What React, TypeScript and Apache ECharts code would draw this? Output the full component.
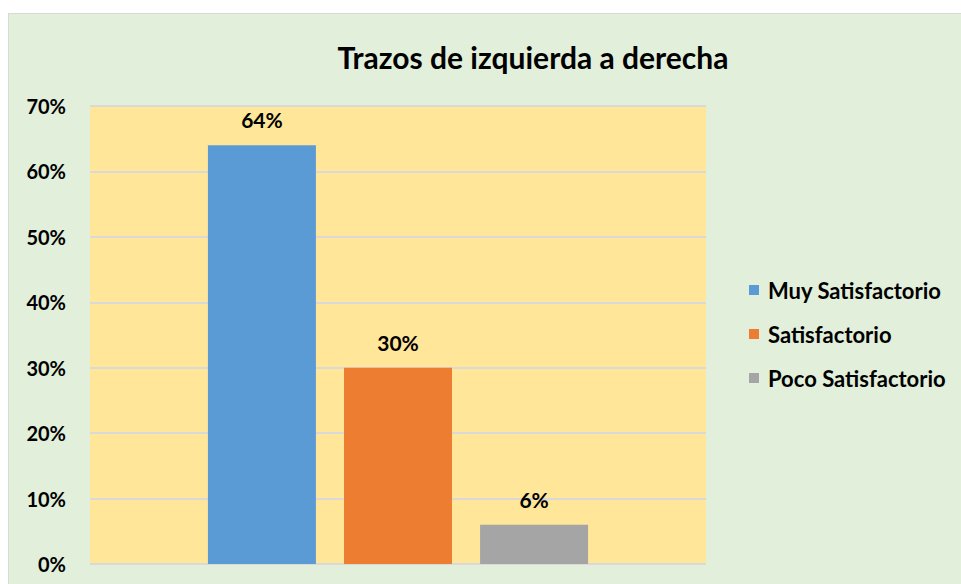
import React, { useEffect, useRef } from "react";
import * as echarts from "echarts";

const titleText = "Trazos de izquierda a derecha";
const categories = ["Trazos de izquierda a derecha"];
const seriesNames = ["Muy Satisfactorio", "Satisfactorio", "Poco Satisfactorio"];
const seriesValues = [0.64, 0.3, 0.06];
const seriesColors = ["#5B9BD5", "#ED7D31", "#A5A5A5"];

const FONT = "Lato, 'Open Sans', sans-serif";

export default function App() {
  const ref = useRef<HTMLDivElement>(null);
  useEffect(() => {
    if (!ref.current) return;
    const chart = echarts.init(ref.current, undefined, { renderer: "svg" });
    chart.setOption({
      animation: false,
      backgroundColor: "#E2EFDA",
      textStyle: { fontFamily: FONT },
      graphic: [
        {
          type: "text",
          x: 524,
          y: 43,
          style: {
            text: titleText,
            fontFamily: FONT,
            fontWeight: "bold",
            fontSize: 30,
            fill: "#000",
            textAlign: "center",
            textVerticalAlign: "middle",
          },
        },
      ],
      grid: {
        left: 81,
        top: 92,
        width: 616,
        height: 458,
        show: true,
        backgroundColor: "#FFE699",
        borderWidth: 0,
      },
      legend: {
        orient: "vertical",
        left: 735,
        top: 260,
        itemWidth: 10,
        itemHeight: 10,
        itemGap: 22,
        icon: "rect",
        data: seriesNames,
        textStyle: {
          fontFamily: FONT,
          fontWeight: "bold",
          fontSize: 22,
          color: "#000",
          lineHeight: 22,
          padding: [0, 0, 0, 4],
        },
      },
      xAxis: {
        type: "category",
        data: categories,
        axisLabel: { show: false },
        axisTick: { show: false },
        axisLine: { show: false },
      },
      yAxis: {
        type: "value",
        min: 0,
        max: 0.7,
        interval: 0.1,
        axisLine: { show: false },
        axisTick: { show: false },
        splitLine: { lineStyle: { color: "#D9D9D9", width: 2 } },
        axisLabel: {
          margin: 24,
          fontFamily: FONT,
          fontWeight: "bold",
          fontSize: 20,
          color: "#000",
          formatter: (v: number) => Math.round(v * 100) + "%",
        },
      },
      series: seriesNames.map((name, i) => ({
        name,
        type: "bar",
        barWidth: 108,
        barGap: "26%",
        itemStyle: { color: seriesColors[i] },
        data: [seriesValues[i]],
        label: {
          show: true,
          position: "top",
          distance: 15,
          fontFamily: FONT,
          fontWeight: "bold",
          fontSize: 21,
          color: "#000",
          formatter: (p: any) => Math.round(p.value * 100) + "%",
        },
      })),
    });
    return () => chart.dispose();
  }, []);
  return (
    <div
      style={{
        position: "fixed",
        left: 8,
        top: 13,
        width: 953,
        height: 571,
        boxSizing: "border-box",
        borderLeft: "1px solid #D9D9D9",
        borderTop: "1px solid #D9D9D9",
      }}
    >
      <div ref={ref} style={{ width: 952, height: 570 }} />
    </div>
  );
}
